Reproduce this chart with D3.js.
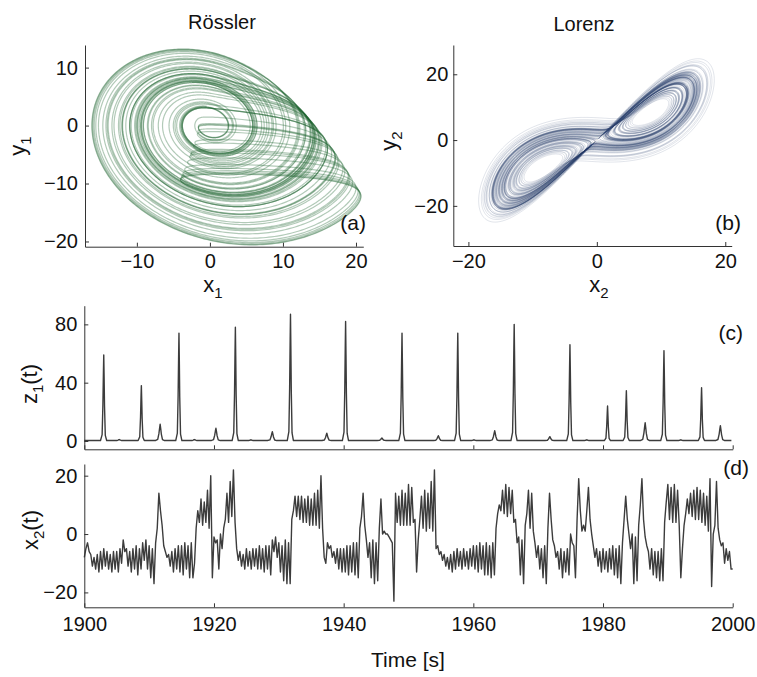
<!DOCTYPE html>
<html><head><meta charset="utf-8">
<script src="https://cdn.jsdelivr.net/npm/d3@7"></script>
<style>
body{margin:0;background:#fff}
text{font-family:"Liberation Sans",Arial,Helvetica,sans-serif;fill:#111}
.axis path,.axis line{stroke:#333;stroke-width:1}
.axis text{font-size:20px;fill:#111;font-family:"Liberation Sans",Arial,Helvetica,sans-serif}
</style></head>
<body>
<svg id="chart" width="757" height="677"></svg>
<script>
// ---------- DATA ----------
// Rössler (a) parameters chosen to match the read extents x1∈[-16,21], y1∈[-20,13.5]
const rosslerParams = {a: 0.28, b: 0.1, c: 8.5};
// Lorenz (b) classic parameters, matching x2∈[-20,20], y2∈[-28,28]
const lorenzParams = {sigma: 10, rho: 28, beta: 8 / 3};

const timeTicks = [1900, 1920, 1940, 1960, 1980, 2000];
const rosslerXTicks = [-10, 0, 10, 20];
const rosslerYTicks = [-20, -10, 0, 10];
const lorenzXTicks = [-20, 0, 20];
const lorenzYTicks = [-20, 0, 20];
const z1Ticks = [0, 40, 80];
const x2Ticks = [-20, 0, 20];

// (c) z1(t): spike times and heights
const z1PeakTimes = [1903.0,1905.4,1908.8,1911.7,1914.6,1917.0,1920.3,1923.3,1925.7,1929.0,1931.8,1937.4,1940.3,1945.9,1949.0,1954.6,1957.6,1960.1,1963.3,1966.3,1971.8,1974.9,1977.5,1980.7,1983.6,1986.5,1989.4,1992.0,1995.2,1998.1];
const z1PeakHeights = [59,1,38,11.5,74,1,8.7,78,0.8,6.4,87,5.3,82,2,74,3.6,74,0.8,7,80,3,66,0.8,24,34.5,12.5,62,0.8,36.5,10.5];
const z1Baseline = 0.3;

// (d) x2(t): values read every 0.25 s from 1900 to 2000
const x2Start = 1900, x2Step = 0.25;
const x2Values = [
 -8,-5,-3,-6,-7,-11,-8,-12,-7,-13,-6,-12,-5,-11,-6,-12,-7,-13,-6,-12,
 -6,-13,-5,-10,-2,-6,-5,-11,-6,-13,-5,-12,-4,-14,-5,-12,-3,-9,-2,-12,
 -4,-15,-5,-17,-3,2,14,8,3,-4,-6,-8,-7,-11,-6,-13,-5,-12,-4,-13,
 -4,-14,-3,-12,-4,-15,-3,-15,-10,2,8,4,12,3,11,4,15,2,20,-15,
 -1,-3,-2,-12,0,-5,2,5,14,4,18,6,22,4,-5,-9,-6,-11,-7,-12,
 -5,-11,-6,-12,-5,-11,-5,-12,-4,-12,-5,-13,-4,-12,-4,-14,-2,-6,-1,-8,
 -3,-13,-4,-16,-2,-17,-3,-17,5,8,13,6,13,5,13,4,12,4,13,3,
 12,3,14,3,15,2,20,2,-8,-10,-3,-5,-4,-8,-6,-10,-5,-12,-5,-13,
 -5,-13,-4,-14,-4,-13,-3,-14,-3,-15,2,6,14,3,-2,-8,-3,-15,-2,-17,
 -3,-16,2,12,0,1,0,0,-1,-2,-3,-23,14,4,13,3,15,3,14,3,
 17,3,16,4,5,-13,-2,5,13,2,15,1,14,2,18,1,22,-5,-4,-7,
 -6,-9,-7,-11,-8,-12,-7,-13,-6,-12,-5,-11,-6,-12,-5,-11,-6,-12,-5,-11,
 -4,-12,-4,-13,-3,-12,-4,-14,-3,-14,-4,-15,-3,-14,2,7,10,8,15,7,
 17,6,16,7,15,4,5,-3,-1,-14,-2,-17,3,7,15,2,14,1,-3,-8,
 -4,-12,-5,-15,-4,-17,2,14,5,-2,-4,-8,-6,-12,-5,-15,-6,-13,-5,-14,
 0,-3,-4,-15,5,19,8,1,3,1,8,16,5,0,-4,-8,-5,-11,-6,-13,
 -5,-12,-6,-13,-5,-12,-4,-14,-5,-15,-4,-17,-3,5,13,5,0,-5,0,-17,
 -1,-16,3,10,19,5,-1,-4,-6,-12,-5,-14,-6,-15,-6,-16,-5,-16,4,11,
 17,5,16,4,17,4,15,3,-15,-5,3,7,12,7,14,6,15,5,16,5,
 15,4,14,3,13,1,19,-18,0,3,18,2,-2,-4,-3,-10,-5,-9,-6,-12,
 -12
];

// ---------- helpers ----------
function rk4(f, s0, dt, nSkip, nKeep, every) {
  let s = s0.slice(); const out = [];
  const add = (a, b, h) => a.map((v, j) => v + h * b[j]);
  for (let k = 0; k < nSkip + nKeep; k++) {
    const k1 = f(s), k2 = f(add(s, k1, dt / 2)), k3 = f(add(s, k2, dt / 2)), k4 = f(add(s, k3, dt));
    s = s.map((v, j) => v + dt / 6 * (k1[j] + 2 * k2[j] + 2 * k3[j] + k4[j]));
    if (k >= nSkip && (k - nSkip) % every === 0) out.push(s.slice());
  }
  return out;
}
const svg = d3.select("#chart");
const defs = svg.append("defs");
function clip(id, x0, y0, x1, y1) {
  defs.append("clipPath").attr("id", id).append("rect")
    .attr("x", x0).attr("y", y0).attr("width", x1 - x0).attr("height", y1 - y0);
}
function drawChunks(g, pts, x, y, color, width, chunk) {
  const line = d3.line().x(d => x(d[0])).y(d => y(d[1]));
  for (let i = 0; i < pts.length - 1; i += chunk) {
    g.append("path").attr("d", line(pts.slice(i, i + chunk + 1)))
      .attr("fill", "none").attr("stroke", color).attr("stroke-width", width)
      .attr("stroke-linejoin", "round");
  }
}
const fmt = d => d < 0 ? "\u2212" + Math.abs(d) : String(d);
function leftAxis(g, y, ticks, x0, pad) {
  g.append("g").attr("class", "axis").attr("transform", `translate(${x0},0)`)
    .call(d3.axisLeft(y).tickValues(ticks).tickSizeInner(-4).tickSizeOuter(0).tickPadding(pad).tickFormat(fmt));
}
function bottomAxis(g, x, ticks, y0, pad, labels) {
  g.append("g").attr("class", "axis").attr("transform", `translate(0,${y0})`)
    .call(d3.axisBottom(x).tickValues(ticks).tickSizeInner(-4).tickSizeOuter(0).tickPadding(pad).tickFormat(labels ? fmt : () => ""));
}
function subLabel(x, y, main, sub, rotate, tail) {
  const t = svg.append("text").attr("text-anchor", "middle").attr("font-size", 22)
    .attr("transform", `translate(${x},${y})` + (rotate ? " rotate(-90)" : ""));
  t.append("tspan").text(main);
  t.append("tspan").attr("font-size", 15).attr("dy", 6).text(sub);
  if (tail) t.append("tspan").attr("dy", -6).text(tail);
  return t;
}

// ---------- (a) Rössler ----------
{
  const {a, b, c} = rosslerParams;
  const f = s => [-s[1] - s[2], s[0] + a * s[1], b + s[2] * (s[0] - c)];
  const pts = rk4(f, [1, 1, 0.1], 0.01, 20000, 36000, 2);
  const x = d3.scaleLinear([-17.1, 21], [85, 363.3]);
  const y = d3.scaleLinear([-20.9, 13.9], [246.7, 45]);
  clip("ca", 85, 45, 363.3, 246.7);
  const g = svg.append("g").attr("clip-path", "url(#ca)");
  drawChunks(g, pts, x, y, "rgba(28,100,48,0.34)", 1.2, 60);
  leftAxis(svg, y, rosslerYTicks, 85, 7);
  bottomAxis(svg, x, rosslerXTicks, 246.7, 7, true);
  svg.append("text").attr("x", 222).attr("y", 29).attr("text-anchor", "middle").attr("font-size", 20).text("Rössler");
  subLabel(213, 292, "x", "1");
  subLabel(25, 146, "y", "1", true);
  svg.append("text").attr("x", 366).attr("y", 230).attr("text-anchor", "end").attr("font-size", 21).text("(a)");
}

// ---------- (b) Lorenz ----------
{
  const {sigma, rho, beta} = lorenzParams;
  const f = s => [sigma * (s[1] - s[0]), s[0] * (rho - s[2]) - s[1], s[0] * s[1] - beta * s[2]];
  const pts = rk4(f, [1, 1, 1], 0.004, 5000, 40000, 1);
  const x = d3.scaleLinear([-22.35, 21], [453.3, 731.7]);
  const y = d3.scaleLinear([-32.2, 28.9], [246, 45]);
  clip("cb", 453.3, 45, 731.7, 246);
  const g = svg.append("g").attr("clip-path", "url(#cb)");
  drawChunks(g, pts, x, y, "rgba(48,70,112,0.24)", 0.6, 120);
  leftAxis(svg, y, lorenzYTicks, 453.3, 5);
  bottomAxis(svg, x, lorenzXTicks, 246, 8, true);
  svg.append("text").attr("x", 584).attr("y", 31).attr("text-anchor", "middle").attr("font-size", 20).text("Lorenz");
  subLabel(599, 292, "x", "2");
  subLabel(396, 141, "y", "2", true);
  svg.append("text").attr("x", 741).attr("y", 230).attr("text-anchor", "end").attr("font-size", 21).text("(b)");
}

// ---------- (c) z1(t) ----------
const xTime = d3.scaleLinear([1900, 2000], [84.3, 732.7]);
{
  const y = d3.scaleLinear([-5.7, 92.8], [449.3, 305.7]);
  // spike profile (time offset, fraction of height)
  const profile = [[-0.5, 0], [-0.25, 0.07], [-0.13, 0.42], [-0.05, 0.8], [0, 1], [0.06, 0.72], [0.12, 0.4], [0.24, 0.06], [0.45, 0]];
  const pts = [[1900, z1Baseline]];
  z1PeakTimes.forEach((t, i) => {
    const h = z1PeakHeights[i];
    const w = h < 15 ? 1.5 : 1;
    profile.forEach(([dt, fr]) => pts.push([t + dt * w, z1Baseline + fr * (h - z1Baseline)]));
  });
  pts.push([1999.8, z1Baseline]);
  svg.append("path").attr("d", d3.line().x(d => xTime(d[0])).y(d => y(d[1]))(pts))
    .attr("fill", "none").attr("stroke", "#3c3c3c").attr("stroke-width", 1.4).attr("stroke-linejoin", "round");
  leftAxis(svg, y, z1Ticks, 84.3, 7);
  bottomAxis(svg, xTime, timeTicks, 449.3, 9, false);
  subLabel(37, 384, "z", "1", true, "(t)");
  svg.append("text").attr("x", 743).attr("y", 340).attr("text-anchor", "end").attr("font-size", 21).text("(c)");
}

// ---------- (d) x2(t) ----------
{
  const y = d3.scaleLinear([-25.1, 24], [607.3, 464]);
  const pts = x2Values.map((v, i) => [x2Start + i * x2Step, v]);
  svg.append("path").attr("d", d3.line().x(d => xTime(d[0])).y(d => y(d[1]))(pts))
    .attr("fill", "none").attr("stroke", "#3c3c3c").attr("stroke-width", 1.4).attr("stroke-linejoin", "round");
  leftAxis(svg, y, x2Ticks, 84.3, 7);
  bottomAxis(svg, xTime, timeTicks, 607.3, 10, true);
  subLabel(38, 530, "x", "2", true, "(t)");
  svg.append("text").attr("x", 749).attr("y", 475).attr("text-anchor", "end").attr("font-size", 21).text("(d)");
  svg.append("text").attr("x", 408).attr("y", 667).attr("text-anchor", "middle").attr("font-size", 21).text("Time [s]");
}
</script>
</body></html>
